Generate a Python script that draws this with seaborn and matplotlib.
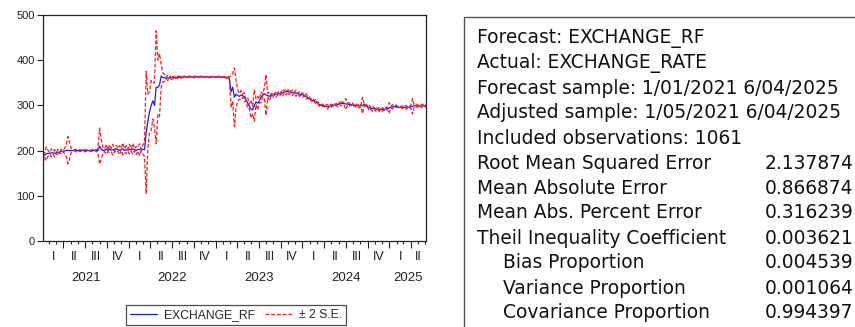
import numpy as np
import pandas as pd
import matplotlib
matplotlib.use('Agg')
import matplotlib.pyplot as plt
import matplotlib.dates as mdates
import matplotlib.patches as mpatches
from matplotlib.lines import Line2D
import seaborn as sns

# Weekly readings of the forecast (EXCHANGE_RF), from 2021-01-05 to 2025-06-03
forecast = [
    # 2021
    186, 190, 193, 194,
    194, 195, 195, 194, 195,
    196, 197, 198, 199,
    199, 200, 201, 200,
    200, 200, 201, 200, 200, 200, 200, 201, 200, 200, 200, 200, 200, 200, 201, 200, 200,
    210, 203, 200,
    201, 203, 200, 204, 201, 202, 200, 204, 202, 201, 203, 204, 200, 202, 201,
    # 2022
    203, 201, 204, 202, 200, 203, 202, 201, 203, 202,
    240, 265, 285, 300, 310, 300, 340, 340, 345, 365, 362, 361,
    360, 361, 360, 362, 361, 361, 362, 362, 362, 363, 363, 363, 363, 363, 363,
    363, 363, 363, 363, 363, 363, 363, 363, 363, 363, 363, 363, 363, 363, 363,
    # 2023
    363, 363, 363, 363, 363, 362, 362, 362, 360,
    330, 340, 318, 325, 322, 320, 323, 322, 318, 312, 305, 298, 292, 290, 300, 308, 305,
    310, 318, 322, 326, 323, 322, 320, 322, 323, 324, 325, 325, 326, 327, 328, 330,
    330, 331, 330, 329, 328, 328, 327, 326, 325, 324,
    # 2024
    323, 322, 320, 318, 315, 313, 311, 310, 308, 305, 302, 300,
    300, 299, 298, 297, 298, 299, 300, 301, 301, 302, 303, 305, 304, 304,
    303, 303, 302, 302, 301, 300, 300, 299, 299, 299, 300, 302, 300,
    297, 295, 293, 293, 293, 292, 292, 291, 291, 291, 291, 292, 293,
    # 2025
    294, 296, 297, 298, 298, 297, 296, 296, 296, 296, 296, 296, 296, 297, 298, 299,
    299, 299, 298, 299, 299, 299, 299,
]

# Weekly readings of the 2 S.E. half-width of the red band
two_se = [
    # 2021
    12, 4, 15, 6,
    2, 9, 3, 8, 1, 7, 2, 5, 1,
    6, 14, 30, 18, 4,
    2, 1, 3, 1, 2, 1, 1, 3, 1, 2, 1, 1, 3, 1, 2, 4,
    40, 22, 6,
    3, 11, 2, 9, 4, 12, 1, 8, 3, 10, 2, 13, 4, 9, 2,
    # 2022
    11, 3, 12, 2, 9, 4, 13, 2, 10, 15,
    135, 60, 45, 55, 40, 50, 125, 60, 70, 25, 10, 8,
    2, 6, 1, 5, 2, 4, 1, 3, 2, 3, 1, 2, 1, 1, 2,
    1, 1, 2, 1, 1, 1, 2, 1, 1, 1, 1, 2, 1, 1, 1,
    # 2023
    1, 1, 2, 1, 1, 1, 2, 1, 4,
    35, 30, 65, 30, 12, 6, 10, 3, 10, 2, 12, 5, 20, 8, 35, 6, 15,
    4, 12, 3, 12, 45, 4, 10, 2, 6, 1, 7, 2, 6, 1, 8, 2,
    7, 1, 6, 2, 6, 1, 7, 1, 5, 2,
    # 2024
    5, 1, 6, 2, 4, 1, 5, 1, 6, 2, 4, 1,
    3, 1, 3, 5, 1, 4, 1, 4, 1, 5, 1, 6, 2, 4,
    12, 2, 4, 1, 4, 1, 4, 1, 5, 2, 18, 2, 4,
    1, 7, 2, 6, 1, 5, 1, 4, 1, 4, 1, 4, 2,
    # 2025
    12, 2, 5, 1, 3, 1, 3, 1, 3, 1, 4, 1, 4, 2, 17, 2,
    4, 1, 4, 1, 4, 1, 3,
]

quarter_names = ['I', 'II', 'III', 'IV']
years = [2021, 2022, 2023, 2024, 2025]

header_lines = [
    'Forecast: EXCHANGE_RF', 'Actual: EXCHANGE_RATE',
    'Forecast sample: 1/01/2021 6/04/2025', 'Adjusted sample: 1/05/2021 6/04/2025',
    'Included observations: 1061',
]
stats_labels = [
    'Root Mean Squared Error', 'Mean Absolute Error', 'Mean Abs. Percent Error',
    'Theil Inequality Coefficient', 'Bias Proportion', 'Variance Proportion',
    'Covariance Proportion',
]
stats_indent = [False, False, False, False, True, True, True]
stats_values = ['2.137874', '0.866874', '0.316239', '0.003621', '0.004539', '0.001064', '0.994397']

dates = pd.date_range('2021-01-05', periods=len(forecast), freq='7D')
df = pd.DataFrame({'date': dates, 'forecast': forecast})
df['upper'] = df['forecast'] + np.array(two_se)
df['lower'] = df['forecast'] - np.array(two_se)

sns.set_style('ticks')
plt.rcParams['font.family'] = ['Liberation Sans', 'DejaVu Sans']

fig = plt.figure(figsize=(8.55, 3.27), dpi=100)
ax = fig.add_axes([43 / 855, 1 - 241 / 327, (426 - 43) / 855, (241 - 15) / 327])

blue, red = '#1a1aff', '#ff1a1a'
dash = (0, (3, 1.6))
sns.lineplot(data=df, x='date', y='forecast', color=blue, lw=0.9, ax=ax)
sns.lineplot(data=df, x='date', y='upper', color=red, lw=0.9, ax=ax)
sns.lineplot(data=df, x='date', y='lower', color=red, lw=0.9, ax=ax)
for ln in ax.lines[1:]:
    ln.set_linestyle(dash)

xmin, xmax = pd.Timestamp('2021-01-05'), pd.Timestamp('2025-06-04')
ax.set_xlim(xmin, xmax)
ax.set_ylim(0, 500)
ax.set_yticks([0, 100, 200, 300, 400, 500])
ax.set_xlabel('')
ax.set_ylabel('')

ax.xaxis.set_major_locator(mdates.MonthLocator(bymonth=[1, 4, 7, 10]))
ax.xaxis.set_minor_locator(mdates.MonthLocator())
ax.xaxis.set_major_formatter(plt.NullFormatter())
ax.tick_params(axis='x', which='major', length=5, width=0.8, color='#222')
ax.tick_params(axis='x', which='minor', length=2.5, width=0.8, color='#222')
ax.tick_params(axis='y', length=4, width=0.8, labelsize=8, colors='#222', pad=2)
for s in ax.spines.values():
    s.set_visible(True)
    s.set_linewidth(0.9)
    s.set_color('#222')

# quarter and year labels under the axis
tr = matplotlib.transforms.blended_transform_factory(ax.transData, fig.transFigure)
for y in years:
    for q in range(4):
        qs = pd.Timestamp(year=y, month=3 * q + 1, day=1)
        qe = qs + pd.DateOffset(months=3)
        a, b = max(qs, xmin), min(qe, xmax)
        if a >= b:
            continue
        mid = a + (b - a) / 2
        ax.text(mdates.date2num(mid), 1 - 257 / 327, quarter_names[q], transform=tr,
                ha='center', va='center', fontsize=9, color='#222')
    ys = max(pd.Timestamp(year=y, month=1, day=1), xmin)
    ye = min(pd.Timestamp(year=y + 1, month=1, day=1), xmax)
    ax.text(mdates.date2num(ys + (ye - ys) / 2), 1 - 278 / 327, str(y), transform=tr,
            ha='center', va='center', fontsize=9.5, color='#222')

handles = [Line2D([], [], color=blue, lw=0.9),
           Line2D([], [], color=red, lw=0.9, linestyle=dash)]
leg = fig.legend(handles, ['EXCHANGE_RF', '± 2 S.E.'], loc='center',
                 bbox_to_anchor=(236 / 855, 1 - 315 / 327), ncol=2, fontsize=8.7,
                 frameon=True, fancybox=False, handlelength=2.3, columnspacing=0.9,
                 handletextpad=0.5, borderpad=0.3)
leg.get_frame().set_edgecolor('#222')
leg.get_frame().set_linewidth(0.9)

# statistics panel
fig.patches.append(mpatches.Rectangle((464 / 855, -0.1), 1.0, 1 - 17 / 327 + 0.1,
                                      transform=fig.transFigure, fill=False,
                                      edgecolor='#555', lw=1))
panel_font = dict(fontsize=13.4, family=['DejaVu Sans'], va='center', ha='left', color='#111')
lines_y = [1 - (38 + 25 * i) / 327 for i in range(12)]
for i, t in enumerate(header_lines):
    fig.text(477 / 855, lines_y[i], t, **panel_font)
for j, (t, v) in enumerate(zip(stats_labels, stats_values)):
    i = j + len(header_lines)
    x0 = 503 if stats_indent[j] else 477
    fig.text(x0 / 855, lines_y[i], t, **panel_font)
    fig.text(765 / 855, lines_y[i], v, **panel_font)

fig.savefig('out.png', dpi=100)
